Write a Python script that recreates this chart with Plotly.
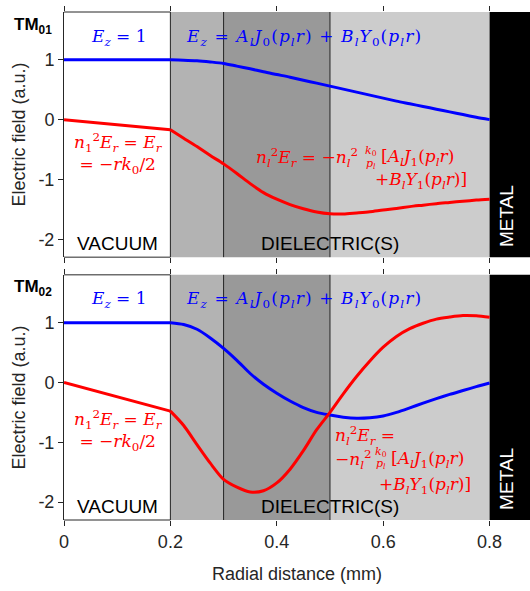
import plotly.graph_objects as go

# ---------------- data ----------------
r_vac = [0.0, 0.2]
r_diel = [0.2, 0.225, 0.25, 0.275, 0.3, 0.325, 0.35, 0.375, 0.4, 0.425, 0.45, 0.475,
          0.5, 0.525, 0.55, 0.575, 0.6, 0.625, 0.65, 0.675, 0.7, 0.725, 0.75, 0.775, 0.8]

# TM01
ez01_vac = [1.0, 1.0]
ez01_diel = [1.0, 0.995, 0.985, 0.965, 0.94, 0.895, 0.85, 0.80, 0.755, 0.71, 0.66, 0.61,
             0.56, 0.51, 0.46, 0.41, 0.36, 0.31, 0.265, 0.22, 0.175, 0.13, 0.085, 0.04, 0.0]
er01_vac = [0.0, -0.17]
er01_diel = [-0.17, -0.31, -0.45, -0.60, -0.74, -0.90, -1.07, -1.22, -1.33, -1.42, -1.49, -1.545,
             -1.575, -1.578, -1.56, -1.54, -1.51, -1.485, -1.455, -1.43, -1.405, -1.385, -1.365, -1.345, -1.33]

# TM02
ez02_vac = [1.0, 1.0]
ez02_diel = [1.0, 0.97, 0.89, 0.745, 0.57, 0.37, 0.15, -0.03, -0.18, -0.31, -0.42, -0.50,
             -0.545, -0.58, -0.598, -0.59, -0.56, -0.50, -0.425, -0.345, -0.27, -0.20, -0.135, -0.07, -0.01]
er02_vac = [0.0, -0.48]
er02_diel = [-0.48, -0.72, -1.04, -1.35, -1.62, -1.75, -1.83, -1.81, -1.68, -1.45, -1.14, -0.79,
             -0.50, -0.19, 0.10, 0.36, 0.59, 0.77, 0.90, 0.99, 1.06, 1.095, 1.12, 1.115, 1.09]

# regions (material boundaries, mm)
region_edges = [0.0, 0.2, 0.3, 0.5, 0.8, 0.9]
region_colors = ["white", "#b3b3b3", "#999999", "#cccccc", "black"]
boundary_lines = [0.2, 0.3, 0.5]

x_ticks = [0, 0.2, 0.4, 0.6, 0.8]
x_ticklabels = ["0", "0.2", "0.4", "0.6", "0.8"]
y_ticks = [-2, -1, 0, 1]
y_ticklabels = ["-2", "-1", "0", "1"]

# ---------------- figure ----------------
BLUE = "#0000ff"
RED = "#ff0000"
AX = "#262626"
SANS = "Liberation Sans, Arial, sans-serif"
SERIF = "DejaVu Serif, serif"

fig = go.Figure()

panels = [
    ("x", "y", ez01_vac, ez01_diel, er01_vac, er01_diel),
    ("x2", "y2", ez02_vac, ez02_diel, er02_vac, er02_diel),
]
for xa, ya, ezv, ezd, erv, erd in panels:
    fig.add_trace(go.Scatter(x=r_vac, y=ezv, xaxis=xa, yaxis=ya, mode="lines",
                             line=dict(color=BLUE, width=3), showlegend=False))
    fig.add_trace(go.Scatter(x=r_diel, y=ezd, xaxis=xa, yaxis=ya, mode="lines",
                             line=dict(color=BLUE, width=3, shape="spline", smoothing=0.8),
                             showlegend=False))
    fig.add_trace(go.Scatter(x=r_vac, y=erv, xaxis=xa, yaxis=ya, mode="lines",
                             line=dict(color=RED, width=3), showlegend=False))
    fig.add_trace(go.Scatter(x=r_diel, y=erd, xaxis=xa, yaxis=ya, mode="lines",
                             line=dict(color=RED, width=3, shape="spline", smoothing=0.8),
                             showlegend=False))

shapes = []
for xa, ya in [("x", "y"), ("x2", "y2")]:
    for i, c in enumerate(region_colors):
        if c == "white":
            continue
        shapes.append(dict(type="rect", xref=xa, yref=f"{ya} domain",
                           x0=region_edges[i], x1=region_edges[i + 1], y0=0, y1=1,
                           fillcolor=c, line=dict(width=0), layer="below"))
    for b in boundary_lines:
        shapes.append(dict(type="line", xref=xa, yref=f"{ya} domain", x0=b, x1=b, y0=0, y1=1,
                           line=dict(color="#222222", width=1), layer="below"))
    # frame over the vacuum region (top & bottom)
    for yy in (0, 1):
        shapes.append(dict(type="line", xref=xa, yref=f"{ya} domain", x0=0, x1=0.2, y0=yy, y1=yy,
                           line=dict(color=AX, width=1), layer="below"))

MF = 17  # math font size
FF = 11  # fraction font size
ann = []


def a(text, x, y, xa, ya, color, xanchor="center", size=MF, family=SERIF, **kw):
    ann.append(dict(text=text, x=x, y=y, xref=xa, yref=ya, showarrow=False,
                    font=dict(color=color, size=size, family=family),
                    xanchor=xanchor, yanchor="middle", **kw))


ez_one = "<i>E<sub>z</sub></i> = 1"
ez_diel = ("<span style='letter-spacing:1.1px'><i>E<sub>z</sub></i> = "
           "<i>A<sub>l</sub>J</i><sub>0</sub>(<i>p<sub>l</sub>r</i>) + "
           "<i>B<sub>l</sub>Y</i><sub>0</sub>(<i>p<sub>l</sub>r</i>)</span>")
er_vac = ("<i>n</i><sub>1</sub><sup>2</sup><i>E<sub>r</sub></i> = <i>E<sub>r</sub></i><br>"
          "= −<i>rk</i><sub>0</sub>/2")
lhs = "<i>n<sub>l</sub></i><sup>2</sup><i>E<sub>r</sub></i> ="
neg = "−<i>n<sub>l</sub></i><sup>2</sup>"
kk = "<i>k</i><sub>0</sub>"
pp = "<i>p<sub>l</sub></i>"
br1 = "[<i>A<sub>l</sub>J</i><sub>1</sub>(<i>p<sub>l</sub>r</i>)"
br2 = "+<i>B<sub>l</sub>Y</i><sub>1</sub>(<i>p<sub>l</sub>r</i>)]"

# --- TM01 ---
a(ez_one, 0.103, 1.37, "x", "y", BLUE)
a(ez_diel, 0.225, 1.37, "x", "y", BLUE, xanchor="left")
a(er_vac, 0.103, -0.57, "x", "y", RED, align="center")
a(lhs + " " + neg, 0.557, -0.64, "x", "y", RED, xanchor="right")
a(kk, 0.5765, -0.53, "x", "y", RED, size=FF)
a(pp, 0.5765, -0.75, "x", "y", RED, size=FF)
a(br1, 0.593, -0.64, "x", "y", RED, xanchor="left")
a(br2, 0.762, -1.02, "x", "y", RED, xanchor="right")
a("VACUUM", 0.101, -2.07, "x", "y", "black", size=19, family=SANS)
a("DIELECTRIC(S)", 0.5, -2.07, "x", "y", "black", size=19, family=SANS)
a("METAL", 0.832, -1.62, "x", "y", "white", size=19, family=SANS, textangle=-90)

# --- TM02 ---
a(ez_one, 0.103, 1.38, "x2", "y2", BLUE)
a(ez_diel, 0.225, 1.38, "x2", "y2", BLUE, xanchor="left")
a(er_vac, 0.103, -0.81, "x2", "y2", RED, align="center")
a(lhs, 0.505, -0.89, "x2", "y2", RED, xanchor="left")
a(neg, 0.505, -1.28, "x2", "y2", RED, xanchor="left")
a(kk, 0.5955, -1.16, "x2", "y2", RED, size=FF)
a(pp, 0.5955, -1.37, "x2", "y2", RED, size=FF)
a(br1, 0.611, -1.28, "x2", "y2", RED, xanchor="left")
a(br2, 0.768, -1.72, "x2", "y2", RED, xanchor="right")
a("VACUUM", 0.101, -2.07, "x2", "y2", "black", size=19, family=SANS)
a("DIELECTRIC(S)", 0.5, -2.07, "x2", "y2", "black", size=19, family=SANS)
a("METAL", 0.832, -1.62, "x2", "y2", "white", size=19, family=SANS, textangle=-90)

# panel labels
ann.append(dict(text="<b>TM<sub>01</sub></b>", xref="paper", yref="paper", x=-0.112, y=0.972,
                xanchor="left", yanchor="middle", showarrow=False,
                font=dict(size=17, color="black", family=SANS)))
ann.append(dict(text="<b>TM<sub>02</sub></b>", xref="paper", yref="paper", x=-0.112, y=0.456,
                xanchor="left", yanchor="middle", showarrow=False,
                font=dict(size=17, color="black", family=SANS)))

xrange = [0, 0.876]
yrange = [-2.3, 1.8]
common_x = dict(range=xrange, tickvals=x_ticks, ticktext=x_ticklabels, ticks="outside",
                ticklen=5, tickcolor=AX, tickwidth=1, showgrid=False, zeroline=False,
                showline=False, mirror="ticks", automargin=False,
                tickfont=dict(size=18, color=AX, family=SANS))
common_y = dict(range=yrange, tickvals=y_ticks, ticktext=y_ticklabels, ticks="outside",
                ticklen=5, tickcolor=AX, tickwidth=1, showgrid=False, zeroline=False,
                showline=True, linecolor=AX, linewidth=1, automargin=False,
                tickfont=dict(size=18, color=AX, family=SANS),
                title=dict(text="Electric field (a.u.)", font=dict(size=18, color=AX, family=SANS),
                           standoff=8))

fig.update_layout(
    width=530, height=591,
    margin=dict(l=64, r=0, t=12, b=71, autoexpand=False),
    paper_bgcolor="white", plot_bgcolor="white",
    xaxis=dict(domain=[0, 1], anchor="y", showticklabels=False, **common_x),
    yaxis=dict(domain=[0.5174, 1], anchor="x", **common_y),
    xaxis2=dict(domain=[0, 1], anchor="y2", showticklabels=True,
                title=dict(text="Radial distance (mm)", font=dict(size=18, color=AX, family=SANS),
                           standoff=16),
                **common_x),
    yaxis2=dict(domain=[0, 0.4826], anchor="x2", **common_y),
    shapes=shapes, annotations=ann, showlegend=False,
)

fig.write_html("out.html", config={"displayModeBar": False},
               post_script="document.body.style.margin='0';document.body.style.padding='0';")
